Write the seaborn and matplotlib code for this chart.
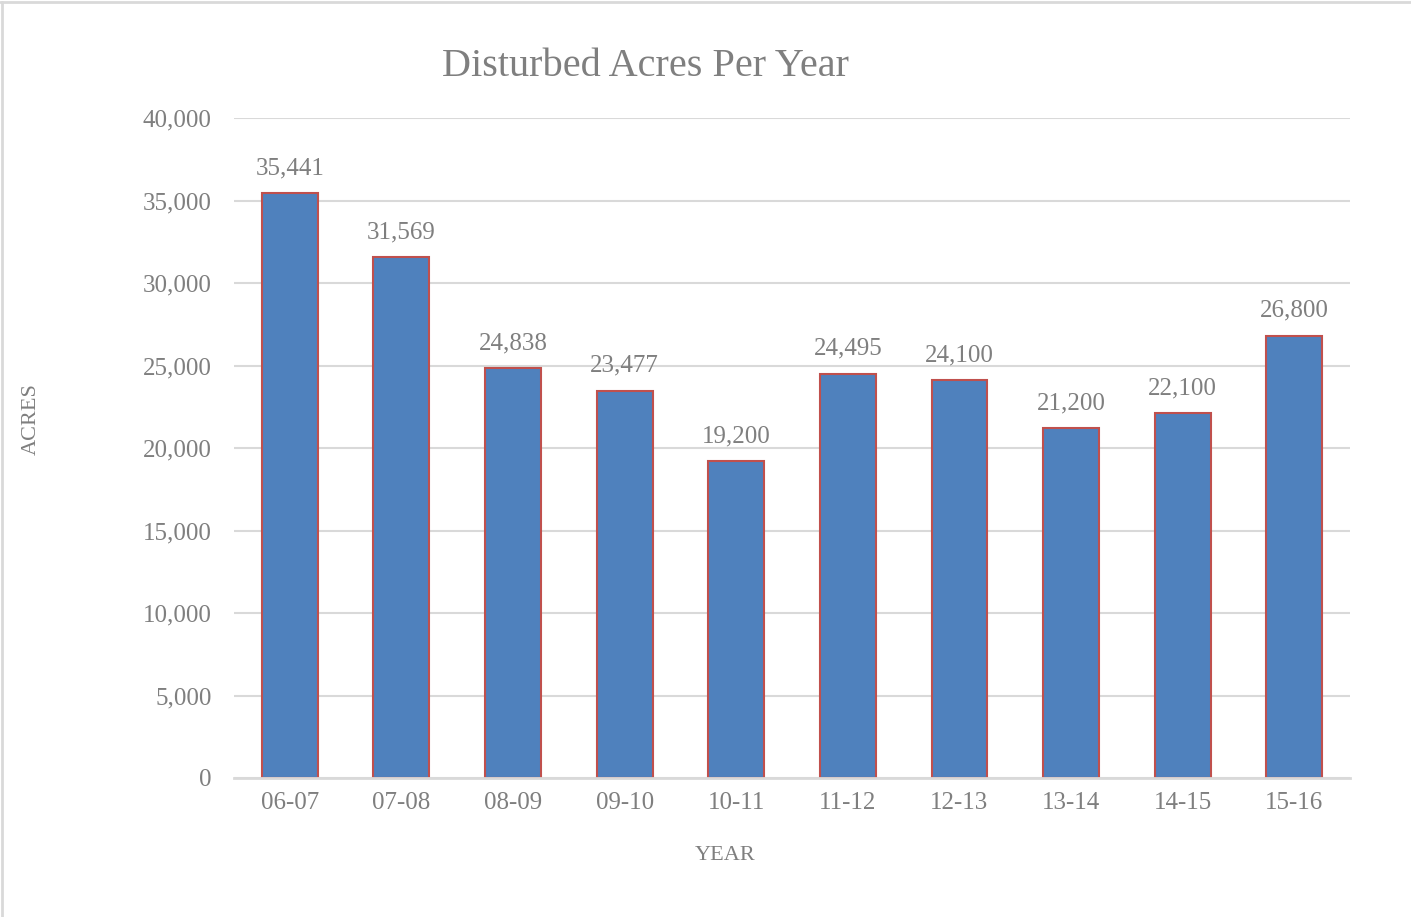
import seaborn as sns
import matplotlib.pyplot as plt
from matplotlib.lines import Line2D
import pandas as pd

years = ["06-07", "07-08", "08-09", "09-10", "10-11",
         "11-12", "12-13", "13-14", "14-15", "15-16"]
acres = [35441, 31569, 24838, 23477, 19200, 24495, 24100, 21200, 22100, 26800]
yticks = [0, 5000, 10000, 15000, 20000, 25000, 30000, 35000, 40000]

gray = "#7F7F7F"
grid = "#D9D9D9"

sns.set_style("white")
plt.rcParams["font.family"] = ["Liberation Serif", "DejaVu Serif"]

df = pd.DataFrame({"Year": years, "Acres": acres})

fig = plt.figure(figsize=(14.11, 9.17), dpi=100)
ax = fig.add_axes([234 / 1411, 1 - 778 / 917, 1116 / 1411, 660 / 917])

sns.barplot(data=df, x="Year", y="Acres", color="#4F81BD", saturation=1,
            width=0.5, edgecolor="#C0504D", linewidth=1.5, ax=ax, zorder=3)

ax.set_ylim(0, 40000)
ax.set_xlim(-0.5, len(years) - 0.5)
ax.set_yticks(yticks)
ax.set_yticklabels([f"{v:,}" for v in yticks])
ax.yaxis.grid(True, color=grid, linewidth=1.5, zorder=0)
ax.set_axisbelow(True)
for s in ["top", "right", "left"]:
    ax.spines[s].set_visible(False)
ax.spines["bottom"].set_color(grid)
ax.spines["bottom"].set_linewidth(2)
ax.spines["bottom"].set_zorder(4)
ax.tick_params(axis="both", length=0, labelsize=18, labelcolor=gray)
ax.tick_params(axis="x", pad=10)
ax.tick_params(axis="y", pad=16)

ax.set_xlabel("")
ax.set_ylabel("")

for i, v in enumerate(acres):
    ax.annotate(f"{v:,}", (i, v), xytext=(0, 18), textcoords="offset points",
                ha="center", va="center", fontsize=18, color=gray)

fig.text(646 / 1411, 1 - 66 / 917, "Disturbed Acres Per Year",
         ha="center", va="center", fontsize=29, color=gray)
fig.text(725 / 1411, 1 - 855 / 917, "YEAR", ha="center", va="center",
         fontsize=16, color=gray)
fig.text(31 / 1411, 1 - 419 / 917, "ACRES", ha="center", va="center",
         rotation=90, fontsize=16, color=gray)

# chart frame (top and left edges only visible in the reference)
fig.add_artist(Line2D([0, 1], [1 - 2 / 917, 1 - 2 / 917],
                      transform=fig.transFigure, color=grid, linewidth=2))
fig.add_artist(Line2D([1.5 / 1411, 1.5 / 1411], [0, 1 - 2 / 917],
                      transform=fig.transFigure, color=grid, linewidth=2))

plt.savefig("out.png", dpi=100)
